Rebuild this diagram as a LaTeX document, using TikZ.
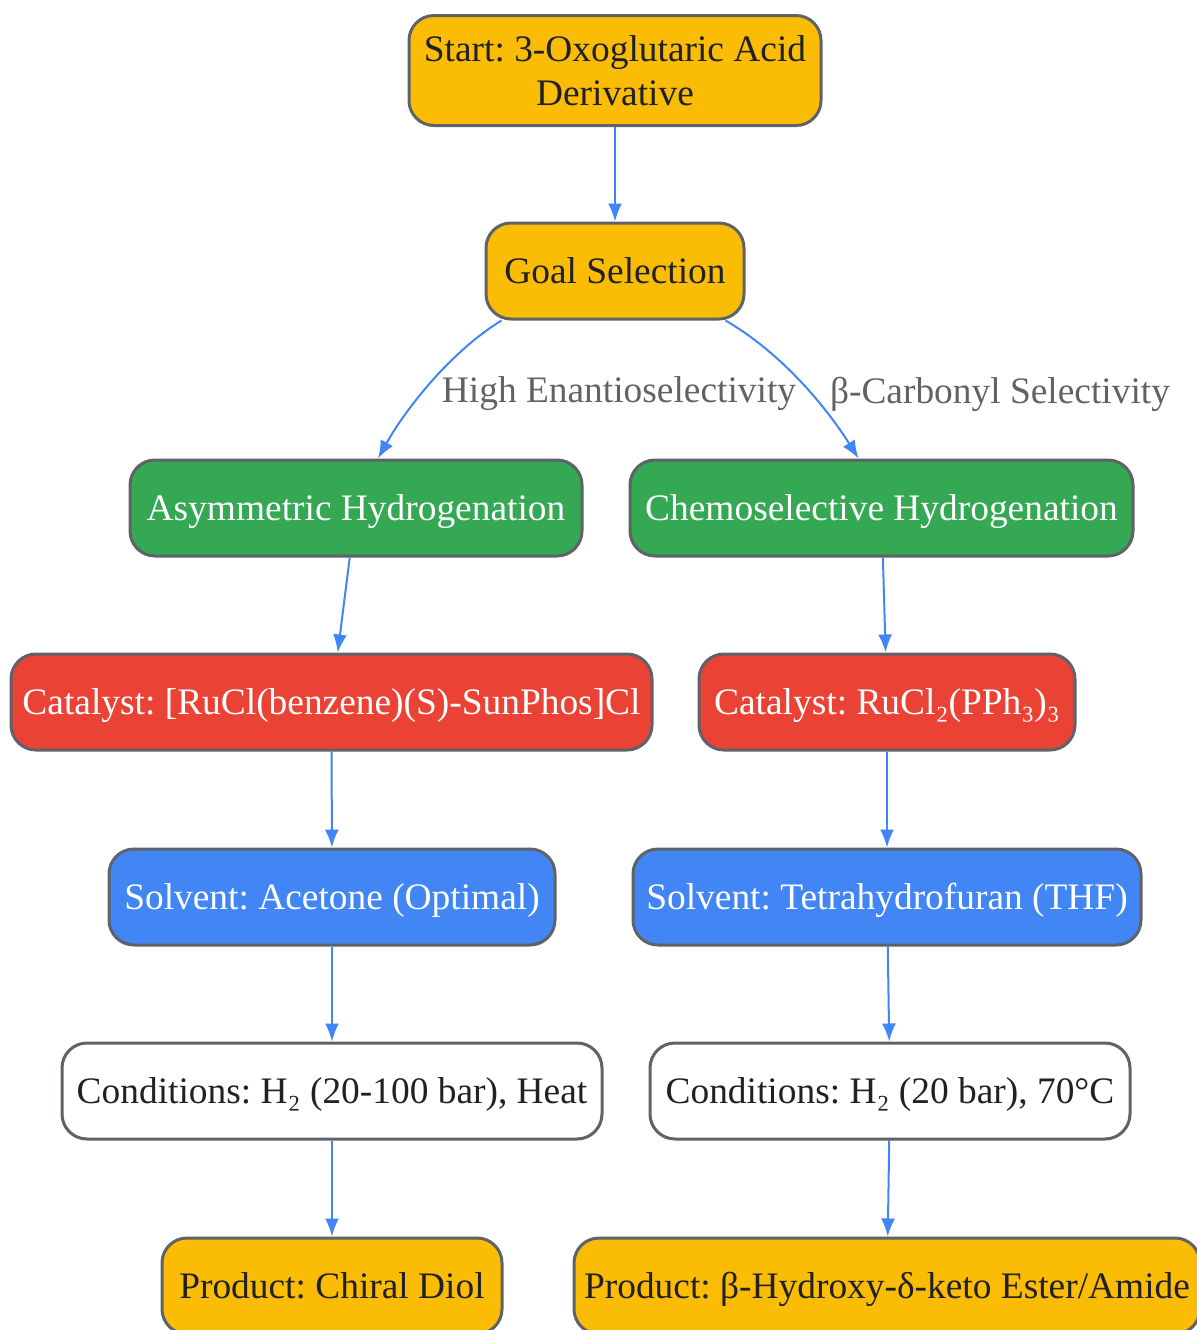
\documentclass[tikz,border=0pt]{standalone}
\usepackage{fontspec}
\setmainfont{Liberation Serif}
\usetikzlibrary{arrows.meta}
\frenchspacing

\definecolor{goalyellow}{HTML}{FBBC05}
\definecolor{stepgreen}{HTML}{34A853}
\definecolor{catred}{HTML}{EA4335}
\definecolor{solvblue}{HTML}{4285F4}
\definecolor{edgegray}{HTML}{5F6368}
\definecolor{inkdark}{HTML}{202124}

\tikzset{
  box/.style={draw=edgegray, line width=1.5pt, rounded corners=12.5pt,
    minimum height=48pt, inner sep=0pt, align=center, font=\fontsize{18.7}{22}\selectfont,
    text height=12.7pt, text depth=0.5pt},
  yellowbox/.style={box, fill=goalyellow, text=inkdark},
  greenbox/.style={box, fill=stepgreen, text=white},
  redbox/.style={box, fill=catred, text=white},
  bluebox/.style={box, fill=solvblue, text=white},
  whitebox/.style={box, fill=white, text=inkdark},
  flow/.style={draw=solvblue, line width=1pt, -{Latex[length=9pt,width=7pt]}},
  choice/.style={text=edgegray, font=\fontsize{18.7}{22}\selectfont}
}

\begin{document}
\begin{tikzpicture}[x=0.5pt, y=-0.5pt]
            \useasboundingbox (0,0) rectangle (1197,1330);

            % Root node
            \node[yellowbox, text height={}, text depth={}, minimum width=206pt, minimum height=55pt] (start) at (615,70.5)
              {Start: 3-Oxoglutaric Acid\\Derivative};

            % Decision node
            \node[yellowbox, minimum width=129pt] (goal) at (615,271) {Goal Selection};
            \draw[flow] (start) -- (goal);

            % Two routes
            \node[greenbox, minimum width=226pt] (asym) at (356,508) {Asymmetric Hydrogenation};
            \node[greenbox, minimum width=251.5pt] (chemo) at (881.5,508) {Chemoselective Hydrogenation};
            \draw[flow] ([xshift=8.5pt]goal.south west) .. controls (450,352) and (405,410) .. ([xshift=11pt]asym.north);
            \draw[flow] ([xshift=-10pt]goal.south east) .. controls (780,352) and (825,405) .. ([xshift=-11.5pt]chemo.north);
            \node[choice] (lblleft) at (619,394) {High Enantioselectivity};
            \node[choice] (lblright) at (1000,394) {β-Carbonyl Selectivity};

            % Catalysts
            \node[redbox, minimum width=320.5pt] (catleft) at (331.5,702) {Catalyst: [RuCl(benzene)(S)-SunPhos]Cl};
            \draw[flow] (asym) -- (catleft);
            \node[redbox, minimum width=188pt] (catright) at (887,702) {Catalyst: RuCl₂(PPh₃)₃};
            \draw[flow] (chemo) -- (catright);

            % Solvents
            \node[bluebox, minimum width=223pt] (solvleft) at (332,897) {Solvent: Acetone (Optimal)};
            \draw[flow] (catleft) -- (solvleft);
            \node[bluebox, minimum width=254pt] (solvright) at (887,897) {Solvent: Tetrahydrofuran (THF)};
            \draw[flow] (catright) -- (solvright);

            % Conditions
            \node[whitebox, minimum width=270pt] (condleft) at (332,1091) {Conditions: H₂ (20-100 bar), Heat};
            \draw[flow] (solvleft) -- (condleft);
            \node[whitebox, minimum width=240pt] (condright) at (890,1091) {Conditions: H₂ (20 bar), 70°C};
            \draw[flow] (solvright) -- (condright);

            % Products
            \node[yellowbox, minimum width=170pt] (prodleft) at (332,1286) {Product: Chiral Diol};
            \draw[flow] (condleft) -- (prodleft);
            \node[yellowbox, minimum width=313pt] (prodright) at (887,1286) {Product: β-Hydroxy-δ-keto Ester/Amide};
            \draw[flow] (condright) -- (prodright);
        \end{tikzpicture}
\end{document}
